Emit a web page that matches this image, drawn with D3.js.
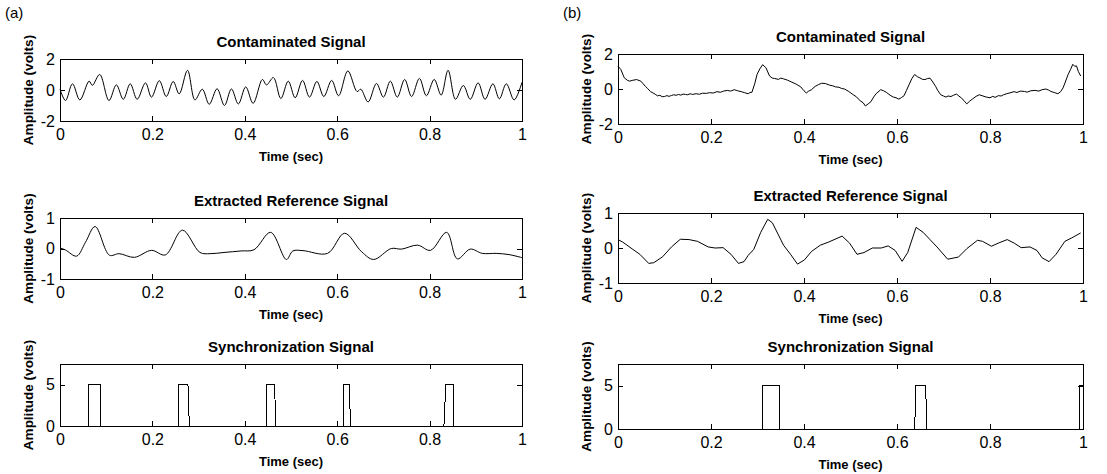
<!DOCTYPE html>
<html>
<head>
<meta charset="utf-8">
<script src="https://cdn.jsdelivr.net/npm/d3@7"></script>
<style>
  body { margin: 0; background: #fff; }
  text { font-family: "Liberation Sans", Arial, Helvetica, sans-serif; fill: #000; }
</style>
</head>
<body>
<div id="vizcont"></div>
<script>
// ---- values ----
var xTicks = [0, 0.2, 0.4, 0.6, 0.8, 1];
var xTickLabels = ["0", "0.2", "0.4", "0.6", "0.8", "1"];
var yTicksContam = [-2, 0, 2];
var yTicksRef = [-1, 0, 1];
var yTicksSync = [0, 5];

// (a) contaminated signal
var aContamT = [0, 0.012, 0.027, 0.043, 0.063, 0.07, 0.086, 0.106, 0.122, 0.137, 0.152, 0.167, 0.185, 0.198,
  0.215, 0.23, 0.245, 0.258, 0.276, 0.292, 0.308, 0.323, 0.34, 0.356, 0.371, 0.386, 0.402, 0.418, 0.438,
  0.447, 0.462, 0.478, 0.494, 0.509, 0.525, 0.54, 0.556, 0.571, 0.588, 0.603, 0.623, 0.643, 0.651, 0.667,
  0.685, 0.7, 0.715, 0.73, 0.746, 0.761, 0.778, 0.793, 0.81, 0.825, 0.84, 0.856, 0.873, 0.888, 0.905,
  0.92, 0.937, 0.951, 0.966, 0.983, 1];
var aContamV = [0.05, -0.68, 0.4, -0.64, 0.57, 0.3, 1.0, -0.68, 0.33, -0.6, 0.4, -0.6, 0.46, -0.46,
  0.6, -0.42, 0.55, -0.25, 1.27, -0.64, 0.05, -0.92, 0.08, -1.0, 0.07, -0.9, 0.2, -0.86, 0.68,
  0.33, 0.8, -0.55, 0.57, -0.5, 0.62, -0.46, 0.55, -0.42, 0.62, -0.37, 1.23, -0.1, 0.05, -0.77,
  0.42, -0.46, 0.57, -0.46, 0.68, -0.42, 0.75, -0.37, 0.68, -0.33, 1.27, -0.6, 0.29, -0.6, 0.46,
  -0.6, 0.4, -0.57, 0.4, -0.64, 0.5];

// (a) extracted reference signal
var aRefT = [0, 0.012, 0.036, 0.055, 0.076, 0.107, 0.128, 0.161, 0.198, 0.228, 0.265, 0.303, 0.325,
  0.355, 0.392, 0.42, 0.456, 0.49, 0.504, 0.526, 0.579, 0.616, 0.653, 0.679, 0.717, 0.739, 0.774,
  0.802, 0.837, 0.86, 0.888, 0.914, 0.944, 0.972, 1];
var aRefV = [0.02, -0.05, -0.25, 0.2, 0.72, -0.22, -0.17, -0.29, -0.06, -0.21, 0.6, -0.13, -0.17,
  -0.13, -0.08, -0.04, 0.53, -0.36, -0.08, -0.07, -0.16, 0.5, -0.11, -0.36, 0, -0.02, 0.11,
  -0.06, 0.53, -0.34, -0.02, -0.16, -0.16, -0.2, -0.3];

// (a) synchronization signal
var aSyncT = [0, 0.062, 0.062, 0.087, 0.087, 0.2565, 0.2565, 0.277, 0.280, 0.447, 0.447, 0.4645, 0.467,
  0.6145, 0.6145, 0.626, 0.629, 0.831, 0.835, 0.851, 0.851, 1];
var aSyncV = [0, 0, 5, 5, 0, 0, 5, 5, 0, 0, 5, 5, 0, 0, 5, 5, 0, 0, 5, 5, 0, 0];

// (b) contaminated signal (noisy trace)
var bContamT = [0, 0.006, 0.0135, 0.02, 0.025, 0.032, 0.04, 0.049, 0.054, 0.059, 0.064, 0.07, 0.075, 0.08,
  0.085, 0.09, 0.095, 0.1, 0.105, 0.11, 0.115, 0.12, 0.125, 0.13, 0.135, 0.14, 0.145, 0.15, 0.155, 0.16,
  0.168, 0.175, 0.182, 0.19, 0.197, 0.205, 0.213, 0.22, 0.227, 0.235, 0.242, 0.25, 0.257, 0.265, 0.272,
  0.28, 0.284, 0.288, 0.294, 0.299, 0.305, 0.311, 0.318, 0.326, 0.332, 0.337, 0.345, 0.35, 0.356, 0.365,
  0.374, 0.383, 0.393, 0.4, 0.405, 0.41, 0.416, 0.424, 0.431, 0.438, 0.446, 0.455, 0.462, 0.468, 0.475,
  0.481, 0.487, 0.495, 0.506, 0.513, 0.521, 0.527, 0.532, 0.538, 0.544, 0.55, 0.555, 0.565, 0.571, 0.577,
  0.585, 0.592, 0.598, 0.604, 0.61, 0.615, 0.62, 0.626, 0.632, 0.638, 0.644, 0.649, 0.655, 0.66, 0.666,
  0.671, 0.677, 0.683, 0.688, 0.694, 0.7, 0.705, 0.71, 0.716, 0.722, 0.728, 0.733, 0.739, 0.745, 0.75,
  0.756, 0.762, 0.77, 0.777, 0.785, 0.792, 0.8, 0.806, 0.811, 0.818, 0.824, 0.829, 0.836, 0.843, 0.852,
  0.858, 0.865, 0.874, 0.88, 0.888, 0.897, 0.905, 0.912, 0.92, 0.926, 0.931, 0.938, 0.946, 0.952, 0.957,
  0.962, 0.968, 0.973, 0.978, 0.982, 0.986, 0.99, 0.995];
var bContamV = [1.3, 1.12, 0.64, 0.5, 0.45, 0.5, 0.54, 0.45, 0.3, 0.15, 0.02, -0.15, -0.22, -0.3,
  -0.39, -0.36, -0.44, -0.43, -0.38, -0.42, -0.37, -0.33, -0.36, -0.31, -0.35, -0.29, -0.31, -0.33, -0.27, -0.31,
  -0.27, -0.3, -0.24, -0.25, -0.21, -0.23, -0.15, -0.19, -0.12, -0.08, -0.12, -0.04, -0.1, -0.15, -0.21,
  -0.27, -0.2, -0.19, 0.3, 0.83, 1.15, 1.39, 1.22, 0.74, 0.62, 0.6, 0.55, 0.62, 0.58, 0.5,
  0.39, 0.28, 0.12, -0.1, -0.23, -0.12, -0.04, 0.15, 0.25, 0.33, 0.31, 0.22, 0.18, 0.12, 0.1,
  0.03, 0, -0.12, -0.33, -0.45, -0.68, -0.78, -0.97, -0.85, -0.72, -0.45, -0.27, -0.04, -0.1, -0.19,
  -0.35, -0.46, -0.5, -0.58, -0.48, -0.39, -0.1, 0.25, 0.6, 0.83, 0.7, 0.64, 0.55, 0.54, 0.6,
  0.62, 0.4, 0.15, -0.1, -0.33, -0.4, -0.46, -0.4, -0.43, -0.35, -0.29, -0.4, -0.52, -0.7, -0.85,
  -0.7, -0.58, -0.42, -0.33, -0.4, -0.46, -0.5, -0.42, -0.48, -0.38, -0.4, -0.33, -0.27, -0.22, -0.15,
  -0.2, -0.12, -0.14, -0.18, -0.1, -0.08, -0.12, -0.04, 0, -0.06, -0.14, -0.2, -0.27, -0.15, 0.06,
  0.4, 0.83, 1.1, 1.41, 1.3, 1.32, 1.0, 0.74];

// (b) extracted reference signal
var bRefT = [0, 0.01, 0.032, 0.047, 0.066, 0.077, 0.096, 0.115, 0.134, 0.153, 0.171, 0.194, 0.209, 0.226,
  0.243, 0.259, 0.271, 0.28, 0.292, 0.307, 0.322, 0.332, 0.356, 0.371, 0.386, 0.401, 0.416, 0.435,
  0.453, 0.482, 0.498, 0.514, 0.529, 0.547, 0.566, 0.581, 0.596, 0.611, 0.623, 0.641, 0.656, 0.671,
  0.686, 0.709, 0.732, 0.75, 0.773, 0.784, 0.803, 0.818, 0.837, 0.852, 0.867, 0.886, 0.901, 0.912,
  0.927, 0.942, 0.961, 0.976, 0.995];
var bRefV = [0.24, 0.17, -0.04, -0.18, -0.44, -0.42, -0.25, 0.03, 0.25, 0.24, 0.19, 0.03, 0, 0.01,
  -0.18, -0.44, -0.39, -0.21, -0.04, 0.45, 0.82, 0.72, 0.08, -0.18, -0.46, -0.34, -0.1, 0.08,
  0.17, 0.34, 0.14, -0.18, -0.13, 0, 0, 0.06, -0.07, -0.38, -0.13, 0.59, 0.45, 0.24,
  0.03, -0.32, -0.26, -0.02, 0.22, 0.19, 0.05, 0.14, 0.24, 0.14, 0.01, 0.03, -0.07, -0.28,
  -0.39, -0.18, 0.19, 0.29, 0.43];

// (b) synchronization signal
var bSyncT = [0, 0.3105, 0.3105, 0.3466, 0.3466, 0.638, 0.6406, 0.6617, 0.664, 0.9925, 0.9925, 1];
var bSyncV = [0, 0, 5, 5, 0, 0, 5, 5, 0, 0, 5, 5];

function zip(ts, vs) { return ts.map(function(t, i) { return [t, vs[i]]; }); }

// ---- layout ----
var W = 1107, H = 474;
var svg = d3.select("#vizcont").append("svg")
  .attr("width", W).attr("height", H)
  .style("display", "block");

var colA = {x0: 60, x1: 522}, colB = {x0: 618, x1: 1083};

var panels = [
  {col: colA, y0: 59,  y1: 121, dom: [-2, 2],  ticks: yTicksContam, title: "Contaminated Signal",        data: zip(aContamT, aContamV), curve: d3.curveCatmullRom},
  {col: colA, y0: 218, y1: 279, dom: [-1, 1],  ticks: yTicksRef,    title: "Extracted Reference Signal", data: zip(aRefT, aRefV),       curve: d3.curveCatmullRom},
  {col: colA, y0: 364, y1: 426, dom: [0, 7.5], ticks: yTicksSync,   title: "Synchronization Signal",     data: zip(aSyncT, aSyncV),     curve: d3.curveLinear},
  {col: colB, y0: 54,  y1: 124, dom: [-2, 2],  ticks: yTicksContam, title: "Contaminated Signal",        data: zip(bContamT, bContamV), curve: d3.curveLinear},
  {col: colB, y0: 213, y1: 283, dom: [-1, 1],  ticks: yTicksRef,    title: "Extracted Reference Signal", data: zip(bRefT, bRefV),       curve: d3.curveLinear},
  {col: colB, y0: 364, y1: 429, dom: [0, 7.5], ticks: yTicksSync,   title: "Synchronization Signal",     data: zip(bSyncT, bSyncV),     curve: d3.curveLinear}
];

panels.forEach(function(p, i) {
  var x = d3.scaleLinear().domain([0, 1]).range([p.col.x0, p.col.x1]);
  var y = d3.scaleLinear().domain(p.dom).range([p.y1, p.y0]);
  var g = svg.append("g");

  // inward ticks on all four sides
  g.append("g").attr("transform", "translate(0," + p.y1 + ")")
    .call(d3.axisBottom(x).tickValues(xTicks)
      .tickFormat(function(d, k) { return xTickLabels[k]; })
      .tickSizeInner(-5).tickSizeOuter(0).tickPadding(8));
  g.append("g").attr("transform", "translate(0," + p.y0 + ")")
    .call(d3.axisTop(x).tickValues(xTicks).tickFormat("").tickSizeInner(-5).tickSizeOuter(0));
  g.append("g").attr("transform", "translate(" + p.col.x0 + ",0)")
    .call(d3.axisLeft(y).tickValues(p.ticks).tickFormat(d3.format("d"))
      .tickSizeInner(-5).tickSizeOuter(0).tickPadding(5));
  g.append("g").attr("transform", "translate(" + p.col.x1 + ",0)")
    .call(d3.axisRight(y).tickValues(p.ticks).tickFormat("").tickSizeInner(-5).tickSizeOuter(0));

  g.selectAll(".domain").remove();
  g.selectAll(".tick line").attr("stroke", "#000").attr("shape-rendering", "crispEdges");
  g.selectAll(".tick text").style("font-size", "16px").style("font-family", "'Liberation Sans', Arial, sans-serif")
    .text(function() { return d3.select(this).text().replace("\u2212", "-"); });

  // signal
  var line = d3.line()
    .x(function(d) { return x(d[0]); })
    .y(function(d) { return y(d[1]); })
    .curve(p.curve);
  g.append("path")
    .datum(p.data)
    .attr("d", line)
    .attr("fill", "none")
    .attr("stroke", "#000")
    .attr("stroke-width", 1)
    .attr("shape-rendering", i % 3 === 2 ? "crispEdges" : "auto");

  // box
  g.append("rect")
    .attr("x", p.col.x0).attr("y", p.y0)
    .attr("width", p.col.x1 - p.col.x0).attr("height", p.y1 - p.y0)
    .attr("fill", "none").attr("stroke", "#000").attr("stroke-width", 1)
    .attr("shape-rendering", "crispEdges");

  // title and axis labels
  var cx = (p.col.x0 + p.col.x1) / 2;
  g.append("text").attr("x", cx).attr("y", p.y0 - 12)
    .attr("text-anchor", "middle").style("font-size", "15px").style("font-weight", "bold")
    .text(p.title);
  g.append("text").attr("x", cx).attr("y", p.y1 + 40)
    .attr("text-anchor", "middle").style("font-size", "13px").style("font-weight", "bold")
    .text("Time (sec)");
  g.append("text")
    .attr("transform", "translate(" + (p.col.x0 - 27) + "," + ((p.y0 + p.y1) / 2) + ") rotate(-90)")
    .attr("text-anchor", "middle").style("font-size", "13.5px").style("font-weight", "bold")
    .text("Amplitude (volts)");
});

svg.append("text").attr("x", 5).attr("y", 18).style("font-size", "15px").text("(a)");
svg.append("text").attr("x", 563).attr("y", 18).style("font-size", "15px").text("(b)");
</script>
</body>
</html>
